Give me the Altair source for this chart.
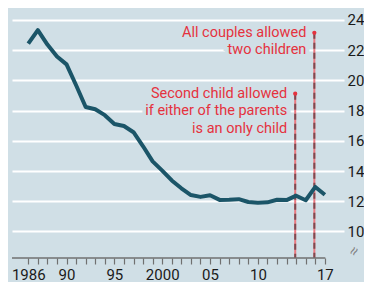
import altair as alt
import pandas as pd

# ---- data ----
years = [1986, 1987, 1988, 1989, 1990, 1991, 1992, 1993, 1994, 1995, 1996,
         1997, 1998, 1999, 2000, 2001, 2002, 2003, 2004, 2005, 2006, 2007,
         2008, 2009, 2010, 2011, 2012, 2013, 2014, 2015, 2016, 2017]
birth_rate = [22.43, 23.33, 22.37, 21.58, 21.06, 19.68, 18.24, 18.09, 17.70,
              17.12, 16.98, 16.57, 15.64, 14.64, 14.03, 13.38, 12.86, 12.41,
              12.29, 12.40, 12.09, 12.10, 12.14, 11.95, 11.90, 11.93, 12.10,
              12.08, 12.37, 12.07, 12.95, 12.43]

tick_years = list(range(1986, 2018))
label_years = [1986, 1990, 1995, 2000, 2005, 2010, 2017]
label_texts = ["1986", "90", "95", "2000", "05", "10", "17"]
y_ticks = [10, 12, 14, 16, 18, 20, 22, 24]

policy_years = [2013.9, 2015.9]
policy_tops = [19.12, 23.15]
policy_labels = [
    ["Second child allowed", "if either of the parents", "is an only child"],
    ["All couples allowed", "two children"],
]

# ---- styling ----
BG = "#d0dfe6"
LINE = "#1b5568"
RED = "#e5323e"
FONT = "Roboto, sans-serif"

CW, CH = 356, 274          # whole canvas (fits the page inside its 8px margin)
W, H = 332, 250            # plot area
PAD_L = 4
X_MIN, X_MAX = 1984.3, 2019.0
AXIS_END = 2017.05
Y_MIN, Y_MAX = 8.245, 24.794

df = pd.DataFrame({"year": years, "rate": birth_rate})
pol = pd.DataFrame({"year": policy_years, "top": policy_tops,
                    "label": policy_labels, "base": [Y_MIN] * 2})
one = pd.DataFrame({"k": [0]})

label_expr = " : ".join(
    f"datum.value == {y} ? '{t}'" for y, t in zip(label_years, label_texts)
) + " : ''"

xscale = alt.Scale(domain=[X_MIN, X_MAX], nice=False, zero=False)
yscale = alt.Scale(domain=[Y_MIN, Y_MAX], nice=False, zero=False)

x_axis = alt.Axis(values=tick_years, labelExpr=label_expr, grid=False,
                  domain=False, ticks=True, tickSize=6,
                  tickColor="#707070", tickWidth=1.2, labelFontSize=15,
                  labelColor="#1a1a1a", labelFont=FONT, labelPadding=3,
                  labelOverlap=False, labelFlush=False, title=None)
y_axis = alt.Axis(values=y_ticks, orient="right", grid=True, gridColor="white",
                  gridWidth=2, domain=False, ticks=False, labelFontSize=15,
                  labelColor="#1a1a1a", labelFont=FONT, labelPadding=3,
                  labelOverlap=False, labelFlush=False, title=None)

X = lambda f: alt.X(f, scale=xscale, axis=x_axis)
Y = lambda f: alt.Y(f, scale=yscale, axis=y_axis)

line = alt.Chart(df).mark_line(color=LINE, strokeWidth=4, strokeJoin="round").encode(
    x=X("year:Q"), y=Y("rate:Q"))

axis_line = alt.Chart(one).mark_rule(color="#707070", strokeWidth=1.5).encode(
    x=alt.datum(X_MIN, scale=xscale, axis=x_axis), x2=alt.datum(AXIS_END),
    y=alt.datum(Y_MIN, scale=yscale, axis=y_axis),
)

base = alt.Chart(pol)
halo = base.mark_text(align="right", baseline="alphabetic", dx=-8, dy=4,
                      fontSize=14.5, font=FONT, lineHeight=17.5, color=BG,
                      stroke=BG, strokeWidth=8).encode(
    x=X("year:Q"), y=Y("top:Q"), text="label")
text = base.mark_text(align="right", baseline="alphabetic", dx=-8, dy=4,
                      fontSize=14.5, font=FONT, lineHeight=17.5, color=RED).encode(
    x=X("year:Q"), y=Y("top:Q"), text="label")
vline = base.mark_rule(color="#ea7880", strokeWidth=2).encode(
    x=X("year:Q"), y=Y("top:Q"), y2="base:Q")
vdash = base.mark_rule(color="#7d4a50", strokeWidth=2, strokeDash=[6, 4]).encode(
    x=X("year:Q"), y=Y("top:Q"), y2="base:Q")
dots = base.mark_point(filled=True, color=RED, size=18, opacity=1).encode(
    x=X("year:Q"), y=Y("top:Q"))

brk = alt.Chart(one).mark_text(text="≈", angle=300, fontSize=15, color="#808080").encode(
    x=alt.value(W + 10), y=alt.datum(8.7, scale=yscale, axis=y_axis))

chart = alt.layer(halo, text, vline, vdash, dots, axis_line, line, brk).properties(
    width=W, height=H,
    autosize=alt.AutoSizeParams(type="none"),
    padding={"left": PAD_L, "top": 0, "right": CW - PAD_L - W, "bottom": CH - H},
    background=BG,
).configure_view(stroke=None, fill=BG).configure_axis(
    labelOverlap=False, labelFlush=False)

chart.save("out.html", embed_options={"renderer": "svg", "actions": False})
